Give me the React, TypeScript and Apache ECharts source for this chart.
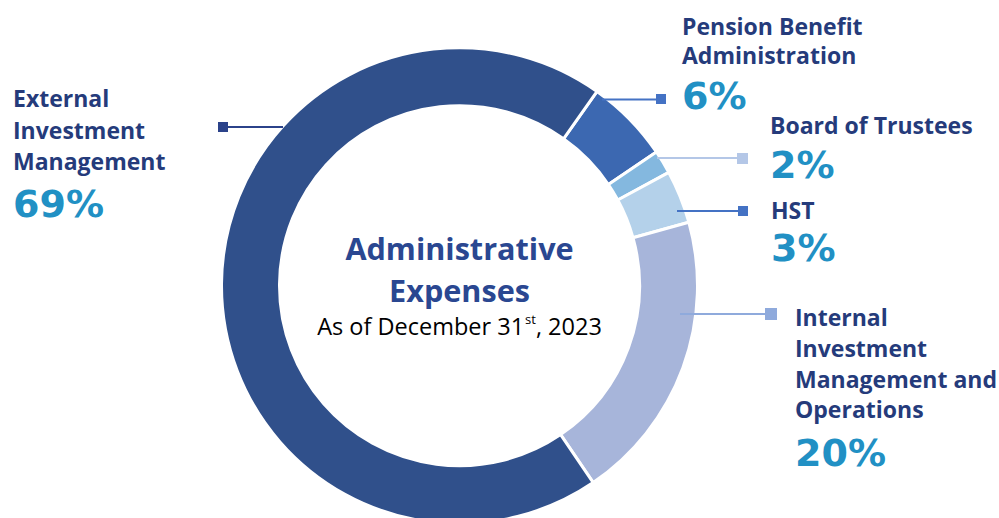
import React, { useEffect, useRef } from "react";
import * as echarts from "echarts";

// ---- Data ----
const categories = [
  "Pension Benefit Administration",
  "Board of Trustees",
  "HST",
  "Internal Investment Management and Operations",
  "External Investment Management",
];
const shares = [5.7, 1.6, 3.6, 19.8, 69.3];
const percentLabels = ["6%", "2%", "3%", "20%", "69%"];
const labelTextLines = [
  ["Pension Benefit", "Administration"],
  ["Board of Trustees"],
  ["HST"],
  ["Internal", "Investment", "Management and", "Operations"],
  ["External", "Investment", "Management"],
];
const titleLines = ["Administrative", "Expenses"];
const subtitleParts = ["As of December 31", "st", ", 2023"];

// ---- Styles / layout ----
const sliceColors = ["#3c68b1", "#84b8df", "#b4d1ea", "#a7b5da", "#30508b"];
const leaderColors = ["#4472c4", "#b4c7e7", "#4472c4", "#8faadc", "#2b428a"];
const LABEL_COLOR = "#253b7b";
const PCT_COLOR = "#2190c4";
const TITLE_COLOR = "#2a4791";

const labelLayout = [
  { x: 682, lineYs: [26, 55], pctY: 96, lx1: 602, lx2: 656, ly: 99.5, sx: 656, sy: 94, ss: 10 },
  { x: 770, lineYs: [125], pctY: 164.5, lx1: 657, lx2: 737, ly: 158, sx: 737, sy: 153, ss: 11 },
  { x: 771, lineYs: [210], pctY: 248, lx1: 677, lx2: 738, ly: 211, sx: 738, sy: 206, ss: 10 },
  { x: 795, lineYs: [316.5, 347.5, 378.5, 409], pctY: 452.5, lx1: 680, lx2: 765, ly: 314, sx: 765, sy: 308, ss: 12 },
  { x: 13, lineYs: [98, 130, 161], pctY: 203.5, lx1: 227, lx2: 283, ly: 127, sx: 218, sy: 122, ss: 10 },
];

const LABEL_FONT = "Open Sans";
const PCT_FONT = "DejaVu Sans";

export default function App() {
  const ref = useRef<HTMLDivElement>(null);

  useEffect(() => {
    if (!ref.current) return;
    const chart = echarts.init(ref.current, undefined, { renderer: "svg" });

    const graphics: any[] = [];
    categories.forEach((_, i) => {
      const L = labelLayout[i];
      graphics.push({
        type: "line",
        z: 100,
        shape: { x1: L.lx1, y1: L.ly, x2: L.lx2, y2: L.ly },
        style: { stroke: leaderColors[i], lineWidth: 2 },
      });
      graphics.push({
        type: "rect",
        z: 100,
        shape: { x: L.sx, y: L.sy, width: L.ss, height: L.ss },
        style: { fill: leaderColors[i] },
      });
      labelTextLines[i].forEach((t, j) => {
        graphics.push({
          type: "text",
          z: 100,
          style: {
            text: t,
            x: L.x,
            y: L.lineYs[j],
            fontFamily: LABEL_FONT,
            fontWeight: "bold",
            fontSize: 23,
            fill: LABEL_COLOR,
            align: "left",
            verticalAlign: "middle",
          },
        });
      });
      graphics.push({
        type: "text",
        z: 100,
        style: {
          text: percentLabels[i],
          x: L.x,
          y: L.pctY,
          fontFamily: PCT_FONT,
          fontWeight: "bold",
          fontSize: 38,
          fill: PCT_COLOR,
          align: "left",
          verticalAlign: "middle",
        },
      });
    });

    const titleYs = [248, 290];
    titleLines.forEach((t, j) => {
      graphics.push({
        type: "text",
        z: 100,
        style: {
          text: t,
          x: 459.5,
          y: titleYs[j],
          fontFamily: LABEL_FONT,
          fontWeight: "bold",
          fontSize: 30.6,
          fill: TITLE_COLOR,
          align: "center",
          verticalAlign: "middle",
        },
      });
    });
    graphics.push({
      type: "text",
      z: 100,
      style: {
        text: `{m|${subtitleParts[0]}}{s|${subtitleParts[1]}}{m|${subtitleParts[2]}}`,
        x: 459.5,
        y: 326,
        align: "center",
        verticalAlign: "middle",
        rich: {
          m: { fontFamily: LABEL_FONT, fontSize: 23.5, fill: "#000000", lineHeight: 30, verticalAlign: "middle" },
          s: { fontFamily: LABEL_FONT, fontSize: 13, fill: "#000000", lineHeight: 30, verticalAlign: "middle", padding: [0, 0, 14, 1] },
        },
      },
    });

    chart.setOption({
      animation: false,
      backgroundColor: "#ffffff",
      series: [
        {
          type: "pie",
          center: [459.5, 285.7],
          radius: [180, 238],
          startAngle: 54.7,
          clockwise: true,
          label: { show: false },
          labelLine: { show: false },
          emphasis: { disabled: true },
          itemStyle: { borderColor: "#ffffff", borderWidth: 3 },
          data: categories.map((name, i) => ({
            name,
            value: shares[i],
            itemStyle: { color: sliceColors[i] },
          })),
        },
      ],
      graphic: graphics,
    });

    return () => chart.dispose();
  }, []);

  return (
    <div
      ref={ref}
      style={{ position: "fixed", left: 0, top: 0, width: 999, height: 518, background: "#fff" }}
    />
  );
}
